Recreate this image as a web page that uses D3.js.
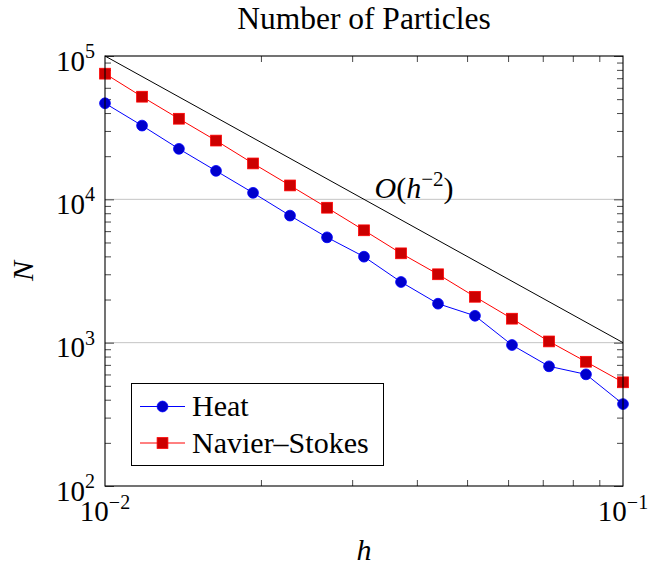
<!DOCTYPE html>
<html>
<head>
<meta charset="utf-8">
<script src="https://cdn.jsdelivr.net/npm/d3@7/dist/d3.min.js"></script>
<style>
  html, body { margin: 0; padding: 0; background: #fff; }
  svg { display: block; }
</style>
</head>
<body>
<svg id="chart" width="651" height="567" font-family="'Liberation Serif', 'Times New Roman', serif"></svg>
<script>
// Mesh width h and particle counts for the two test cases
const hValues = [0.01, 0.01179, 0.01389, 0.01638, 0.01931, 0.02276, 0.02683, 0.03162,
                 0.03728, 0.04394, 0.05179, 0.06105, 0.07197, 0.08483, 0.1];
const heat = [46800, 32700, 22500, 15800, 11100, 7700, 5430, 3980,
              2650, 1870, 1540, 963, 684, 601, 373];
const navierStokes = [75300, 52000, 36500, 25700, 17800, 12500, 8740, 6080,
                      4200, 3000, 2090, 1470, 1020, 736, 529];

// Reference slope O(h^-2)
const refH = [0.01, 0.1];
const refN = [100000, 1000];
const refLabelPos = [0.0395, 12000];

// Axis ticks
const xMajor = [0.01, 0.1];
const xMajorExp = ["\u22122", "\u22121"];
const yMajor = [100, 1000, 10000, 100000];
const yMajorExp = ["2", "3", "4", "5"];
const minorMult = [2, 3, 4, 5, 6, 7, 8, 9];

const seriesNames = ["Heat", "Navier\u2013Stokes"];
const titleText = "Number of Particles";

const svg = d3.select("#chart");
const serifFont = "'Liberation Serif', 'Times New Roman', serif";
const plotLeft = 105, plotRight = 623, plotTop = 56, plotBottom = 486;

const x = d3.scaleLog().domain([0.01, 0.1]).range([plotLeft, plotRight]);
const y = d3.scaleLog().domain([100, 100000]).range([plotBottom, plotTop]);

const xMinor = [0.01].flatMap(d => minorMult.map(m => d * m));
const yMinor = [100, 1000, 10000].flatMap(d => minorMult.map(m => d * m));

// Horizontal grid at the inner major y ticks
svg.append("g")
  .selectAll("line")
  .data(yMajor.slice(1, -1))
  .join("line")
  .attr("x1", plotLeft).attr("x2", plotRight)
  .attr("y1", d => y(d)).attr("y2", d => y(d))
  .attr("stroke", "#c4c4c4").attr("stroke-width", 1);

// Ticks on all four sides, pointing inward
function tickGroup(axisFn, scale, values, size, transform) {
  const g = svg.append("g")
    .attr("transform", transform)
    .call(axisFn(scale).tickValues(values).tickSize(size).tickFormat(""));
  g.select(".domain").remove();
  g.selectAll(".tick line").attr("stroke", "#333").attr("stroke-width", 0.9);
  return g;
}
tickGroup(d3.axisBottom, x, xMinor, -6, `translate(0,${plotBottom})`);
tickGroup(d3.axisTop, x, xMinor, -6, `translate(0,${plotTop})`);
tickGroup(d3.axisLeft, y, yMinor, -6, `translate(${plotLeft},0)`);
tickGroup(d3.axisRight, y, yMinor, -6, `translate(${plotRight},0)`);
tickGroup(d3.axisLeft, y, yMajor, -9, `translate(${plotLeft},0)`);
tickGroup(d3.axisRight, y, yMajor, -9, `translate(${plotRight},0)`);

// Reference line
const line = d3.line().x(d => x(d[0])).y(d => y(d[1]));
svg.append("path")
  .datum(refH.map((h, i) => [h, refN[i]]))
  .attr("d", line)
  .attr("fill", "none").attr("stroke", "#000").attr("stroke-width", 1);

const refText = svg.append("text")
  .attr("x", x(refLabelPos[0])).attr("y", y(refLabelPos[1]) + 10)
  .attr("text-anchor", "middle")
  .attr("font-family", serifFont)
  .attr("font-size", 30);
refText.append("tspan").text("O").attr("font-style", "italic");
refText.append("tspan").text("(");
refText.append("tspan").text("h").attr("font-style", "italic");
refText.append("tspan").text("\u22122").attr("font-size", 21).attr("dy", -12);
refText.append("tspan").text(")").attr("dy", 12);

// Data series
const series = [
  { name: seriesNames[0], values: heat, line: "#0000ff", fill: "#0000cc", shape: "circle" },
  { name: seriesNames[1], values: navierStokes, line: "#ff0000", fill: "#cc0000", shape: "square" }
];

function drawMarker(g, s, cx, cy) {
  if (s.shape === "circle") {
    g.append("circle").attr("cx", cx).attr("cy", cy).attr("r", 5.4)
      .attr("fill", s.fill).attr("stroke", s.line).attr("stroke-width", 0.8);
  } else {
    g.append("rect").attr("x", cx - 5.4).attr("y", cy - 5.4)
      .attr("width", 10.8).attr("height", 10.8)
      .attr("fill", s.fill).attr("stroke", s.line).attr("stroke-width", 0.8);
  }
}

series.forEach(s => {
  const pts = hValues.map((h, i) => [h, s.values[i]]);
  svg.append("path").datum(pts).attr("d", line)
    .attr("fill", "none").attr("stroke", s.line).attr("stroke-width", 1);
  const g = svg.append("g");
  pts.forEach(p => drawMarker(g, s, x(p[0]), y(p[1])));
});

// Frame
svg.append("rect")
  .attr("x", plotLeft).attr("y", plotTop)
  .attr("width", plotRight - plotLeft).attr("height", plotBottom - plotTop)
  .attr("fill", "none").attr("stroke", "#000").attr("stroke-width", 1.1);

// Tick labels
yMajor.forEach((v, i) => {
  const t = svg.append("text")
    .attr("x", plotLeft - 10).attr("y", y(v) + 14.5)
    .attr("text-anchor", "end").attr("font-family", serifFont).attr("font-size", 29);
  t.append("tspan").text("10");
  t.append("tspan").text(yMajorExp[i]).attr("font-size", 20).attr("dy", -12.5);
});
xMajor.forEach((v, i) => {
  const t = svg.append("text")
    .attr("x", x(v)).attr("y", 521)
    .attr("text-anchor", "middle").attr("font-family", serifFont).attr("font-size", 29);
  t.append("tspan").text("10");
  t.append("tspan").text(xMajorExp[i]).attr("font-size", 20).attr("dy", -12.5);
});

// Axis labels and title
svg.append("text").attr("x", (plotLeft + plotRight) / 2).attr("y", 560)
  .attr("text-anchor", "middle").attr("font-family", serifFont).attr("font-size", 30)
  .attr("font-style", "italic").text("h");
svg.append("text")
  .attr("transform", `translate(33,${(plotTop + plotBottom) / 2}) rotate(-90)`)
  .attr("text-anchor", "middle").attr("font-family", serifFont).attr("font-size", 30)
  .attr("font-style", "italic").text("N");
svg.append("text").attr("x", (plotLeft + plotRight) / 2).attr("y", 29)
  .attr("text-anchor", "middle").attr("font-family", serifFont).attr("font-size", 31.5)
  .text(titleText);

// Legend
const lg = svg.append("g");
lg.append("rect").attr("x", 131.5).attr("y", 383.5).attr("width", 252).attr("height", 82)
  .attr("fill", "#fff").attr("stroke", "#000").attr("stroke-width", 1);
series.forEach((s, i) => {
  const cy = 406.5 + i * 36.5;
  lg.append("line").attr("x1", 140).attr("x2", 185).attr("y1", cy).attr("y2", cy)
    .attr("stroke", s.line).attr("stroke-width", 1);
  drawMarker(lg, s, 162.5, cy);
  lg.append("text").attr("x", 192).attr("y", cy + 9.5)
    .attr("font-family", serifFont).attr("font-size", 30).text(s.name);
});
</script>
</body>
</html>
